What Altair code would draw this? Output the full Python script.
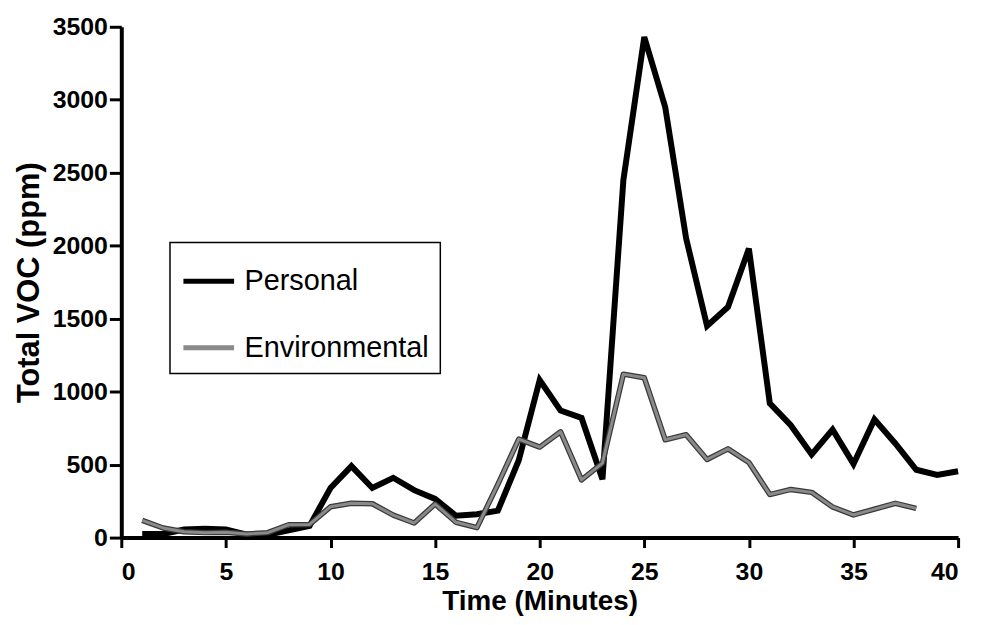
import altair as alt
import pandas as pd

# ---- data ----
time_personal = list(range(1, 41))
personal = [25, 25, 55, 60, 55, 20, 20, 50, 80, 340,
            490, 340, 410, 325, 265, 150, 160, 185, 530, 1080,
            870, 820, 400, 2450, 3430, 2950, 2050, 1450, 1580, 1980,
            920, 770, 570, 740, 505, 810, 645, 465, 430, 455]

time_env = list(range(1, 39))
environmental = [118, 66, 40, 34, 37, 25, 34, 88, 90, 211,
                 235, 232, 154, 100, 230, 105, 68, 365, 675, 620,
                 725, 395, 510, 1120, 1095, 670, 705, 535, 608, 515,
                 295, 330, 310, 210, 155, 195, 235, 200]

series_names = ["Personal", "Environmental"]
series_colors = ["#000000", "#8a8a8a"]
x_ticks = [0, 5, 10, 15, 20, 25, 30, 35, 40]
y_ticks = [0, 500, 1000, 1500, 2000, 2500, 3000, 3500]

df = pd.concat([
    pd.DataFrame({"time": time_personal, "voc": personal, "series": "Personal"}),
    pd.DataFrame({"time": time_env, "voc": environmental, "series": "Environmental"}),
])

FONT = "Liberation Sans, Arial, sans-serif"

x_enc = alt.X("time:Q", scale=alt.Scale(domain=[0, 40], nice=False, zero=False),
              axis=alt.Axis(values=x_ticks, title="Time (Minutes)", grid=False,
                            domainWidth=4, domainColor="black",
                            tickWidth=3, tickColor="black", tickSize=10,
                            labelFont=FONT, labelFontSize=25, labelFontWeight="bold",
                            labelColor="black", labelPadding=12,
                            titleFont=FONT, titleFontSize=28, titleFontWeight="bold",
                            titleColor="black", titlePadding=3))
y_enc = alt.Y("voc:Q", scale=alt.Scale(domain=[0, 3500], nice=False),
              axis=alt.Axis(values=y_ticks, title="Total VOC (ppm)", grid=False,
                            format="d",
                            domainWidth=4, domainColor="black",
                            tickWidth=3, tickColor="black", tickSize=12,
                            labelFont=FONT, labelFontSize=25, labelFontWeight="bold",
                            labelColor="black", labelPadding=2,
                            titleFont=FONT, titleFontSize=31, titleFontWeight="bold",
                            titleColor="black", titlePadding=7))

color_enc = alt.Color("series:N",
                      scale=alt.Scale(domain=series_names, range=series_colors),
                      sort=series_names,
                      legend=alt.Legend(title=None, orient="none", legendX=49, legendY=217,
                                        direction="vertical",
                                        strokeColor="black",
                                        fillColor="white", padding=11,
                                        symbolType="stroke", symbolSize=2600,
                                        symbolStrokeWidth=5, rowPadding=24,
                                        labelFont=FONT, labelFontSize=29,
                                        labelColor="black", labelOffset=8,
                                        labelLimit=400))

base = alt.Chart(df)

personal_line = base.transform_filter(alt.datum.series == "Personal").mark_line(
    strokeWidth=6, strokeJoin="miter").encode(x=x_enc, y=y_enc, color=color_enc)

env_outline = base.transform_filter(alt.datum.series == "Environmental").mark_line(
    strokeWidth=5.5, color="#3a3a3a", strokeJoin="round").encode(x=x_enc, y=y_enc)

env_core = base.transform_filter(alt.datum.series == "Environmental").mark_line(
    strokeWidth=3, strokeJoin="round").encode(x=x_enc, y=y_enc, color=color_enc)

chart = alt.layer(personal_line, env_outline, env_core).properties(
    width=842, height=514,
    autosize="none",
    background="white",
    padding={"left": 114, "top": 17, "right": 15, "bottom": 78},
).configure_view(stroke=None).configure_legend(strokeWidth=1.5).configure_axis(
    domainWidth=4, domainColor="black", tickWidth=3, tickColor="black")

chart.save("out.html", embed_options={"renderer": "svg", "actions": False})
